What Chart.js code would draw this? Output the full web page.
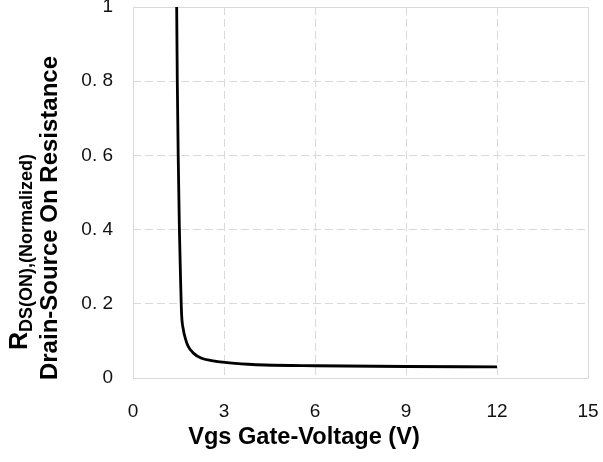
<!DOCTYPE html>
<html>
<head>
<meta charset="utf-8">
<script src="https://cdn.jsdelivr.net/npm/chart.js@4/dist/chart.umd.min.js"></script>
<style>
  html, body { margin: 0; padding: 0; background: #fff; }
  #wrap { width: 603px; height: 462px; position: relative; }
</style>
</head>
<body>
<div id="wrap"><canvas id="c" width="603" height="462"></canvas></div>
<script>
// ---- data ----
const vgs = [1.44, 1.46, 1.49, 1.53, 1.57, 1.60, 1.66, 1.74, 1.82, 1.99, 2.26, 2.59, 3.03, 3.80, 4.35, 6, 9, 12];
const rdsNorm = [1.0, 0.8, 0.6, 0.4, 0.26, 0.175, 0.13, 0.103, 0.085, 0.067, 0.053, 0.047, 0.042, 0.037, 0.035, 0.033, 0.031, 0.030];
const xTickValues = [0, 3, 6, 9, 12, 15];
const yTickValues = [0, 0.2, 0.4, 0.6, 0.8, 1];
const yTickLabels = ['0', '0. 2', '0. 4', '0. 6', '0. 8', '1'];
const xTitle = 'Vgs Gate-Voltage (V)';
const yTitleMain = 'R';
const yTitleSub = 'DS(ON),(Normalized)';
const yTitleLine2 = 'Drain-Source On Resistance';

const points = vgs.map((v, i) => ({ x: v, y: rdsNorm[i] }));
const GRID = '#d9d9d9';
const FONT = "'Liberation Sans', Arial, sans-serif";

const framePlugin = {
  id: 'frame',
  beforeDatasetsDraw(chart) {
    const { ctx, chartArea: a } = chart;
    ctx.save();
    ctx.strokeStyle = GRID;
    ctx.lineWidth = 1;
    ctx.strokeRect(Math.round(a.left) + 0.5, Math.round(a.top) + 0.5, Math.round(a.right - a.left), Math.round(a.bottom - a.top));
    ctx.restore();
  }
};

const yTitlePlugin = {
  id: 'yTitle',
  afterDraw(chart) {
    const ctx = chart.ctx;
    ctx.save();
    ctx.fillStyle = '#000';
    ctx.textBaseline = 'alphabetic';
    const mainFont = 'bold 25px ' + FONT;
    const subFont = 'bold 18px ' + FONT;
    ctx.font = mainFont;
    const wMain = ctx.measureText(yTitleMain).width;
    ctx.font = subFont;
    const wSub = ctx.measureText(yTitleSub).width;
    const total = wMain + wSub;
    ctx.save();
    ctx.translate(27, 252);
    ctx.rotate(-Math.PI / 2);
    ctx.textAlign = 'left';
    ctx.font = mainFont;
    ctx.fillText(yTitleMain, -total / 2, 0);
    ctx.font = subFont;
    ctx.fillText(yTitleSub, -total / 2 + wMain, 5);
    ctx.restore();
    ctx.save();
    ctx.translate(57, 218);
    ctx.rotate(-Math.PI / 2);
    ctx.textAlign = 'center';
    ctx.font = 'bold 24px ' + FONT;
    ctx.fillText(yTitleLine2, 0, 0);
    ctx.restore();
    ctx.restore();
  }
};

function edgeColor(ctx, min, max) {
  const v = ctx.tick ? ctx.tick.value : null;
  if (v === min || v === max) return 'rgba(0,0,0,0)';
  return GRID;
}

new Chart(document.getElementById('c'), {
  type: 'line',
  data: {
    datasets: [{
      data: points,
      borderColor: '#000',
      borderWidth: 2.8,
      pointRadius: 0,
      fill: false,
      cubicInterpolationMode: 'monotone'
    }]
  },
  options: {
    responsive: false,
    animation: false,
    events: [],
    layout: { padding: { left: 20, right: 15, top: 7, bottom: 0 } },
    plugins: {
      legend: { display: false },
      tooltip: { enabled: false },
      title: {
        display: true,
        position: 'bottom',
        text: xTitle,
        color: '#000',
        font: { family: FONT, size: 23.6, weight: 'bold', lineHeight: 1.2 },
        padding: { top: 4, bottom: 10 }
      }
    },
    scales: {
      x: {
        type: 'linear',
        min: 0, max: 15,
        afterBuildTicks(scale) { scale.ticks = xTickValues.map(v => ({ value: v })); },
        afterFit(scale) {
          scale.height = 41.7;
          scale.paddingLeft = 0; scale.paddingRight = 0;
        },
        grid: {
          drawTicks: false,
          color: (c) => edgeColor(c, 0, 15),
          lineWidth: 1
        },
        border: { display: false, dash: [8, 4] },
        ticks: {
          padding: 22,
          color: '#111',
          font: { family: FONT, size: 19 },
          callback: (v) => String(v)
        }
      },
      y: {
        type: 'linear',
        min: 0, max: 1,
        afterBuildTicks(scale) { scale.ticks = yTickValues.map(v => ({ value: v })); },
        afterFit(scale) {
          scale.width = 113;
          scale.paddingTop = 0; scale.paddingBottom = 0;
        },
        grid: {
          drawTicks: false,
          color: (c) => edgeColor(c, 0, 1),
          lineWidth: 1
        },
        border: { display: false, dash: [8, 4] },
        ticks: {
          padding: 20,
          color: '#111',
          font: { family: FONT, size: 19 },
          callback: (v) => yTickLabels[yTickValues.indexOf(v)] ?? ''
        }
      }
    }
  },
  plugins: [framePlugin, yTitlePlugin]
});
</script>
</body>
</html>
